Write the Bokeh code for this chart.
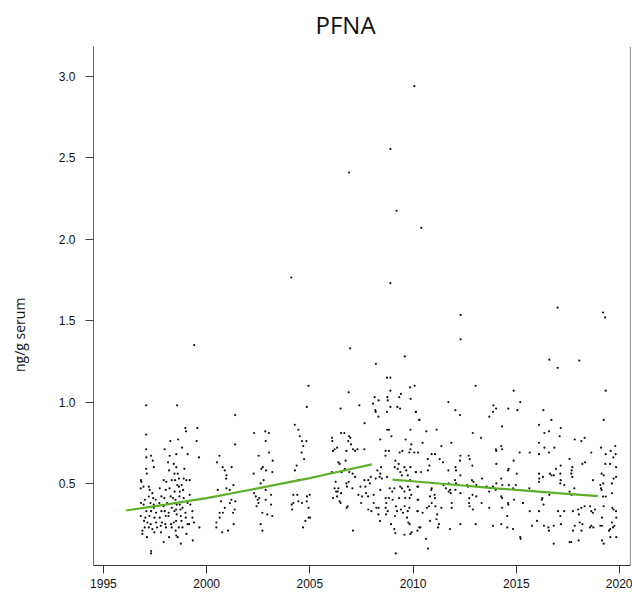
import math
from bokeh.plotting import figure
from bokeh.layouts import row
from bokeh.models import Range1d, FixedTicker, Span, NumeralTickFormatter
from bokeh.core.properties import value
from bokeh.embed import file_html
from bokeh.resources import INLINE

# ---- data (year, PFNA ng/g serum) ----
pts_1997_1999 = [
(1997.07,0.98),(1998.57,0.98),(1997.07,0.80),(1998.97,0.84),(1999.00,0.82),(1999.55,0.84),(1998.24,0.76),(1998.62,0.77),
(1999.52,0.76),(1997.07,0.71),(1997.97,0.71),(1998.81,0.72),(1997.08,0.66),(1997.31,0.67),(1997.39,0.64),(1997.44,0.60),
(1998.21,0.67),(1998.53,0.68),(1999.08,0.68),(1999.63,0.66),(1997.07,0.59),(1997.10,0.56),(1998.13,0.63),(1998.41,0.62),
(1998.53,0.60),(1998.92,0.59),(1998.18,0.58),(1998.44,0.56),(1998.60,0.56),(1998.66,0.53),(1996.82,0.52),(1996.84,0.51),
(1997.92,0.52),(1998.05,0.51),(1998.31,0.52),(1998.47,0.52),(1998.89,0.53),(1999.02,0.52),(1999.18,0.52),(1996.81,0.47),
(1996.94,0.48),(1997.20,0.48),(1997.24,0.46),(1997.37,0.44),(1997.73,0.47),(1998.02,0.46),(1998.20,0.47),(1998.58,0.49),
(1998.66,0.48),(1998.79,0.49),(1998.45,0.45),(1998.70,0.45),(1998.86,0.46),(1997.01,0.40),(1997.20,0.42),(1997.41,0.41),
(1997.53,0.40),(1997.81,0.42),(1997.95,0.41),(1998.26,0.42),(1998.37,0.41),(1998.49,0.40),(1998.68,0.42),(1998.89,0.41),
(1999.18,0.43),(1999.50,0.40),(1996.82,0.38),(1996.95,0.37),(1997.28,0.38),(1997.44,0.37),(1997.71,0.38),(1997.91,0.36),
(1998.08,0.38),(1998.31,0.35),(1998.55,0.37),(1998.70,0.37),(1998.83,0.35),(1999.08,0.38),(1999.21,0.37),(1997.08,0.33),
(1997.31,0.33),(1997.44,0.35),(1997.55,0.32),(1997.81,0.33),(1997.97,0.33),(1998.16,0.32),(1998.44,0.33),(1998.52,0.34),
(1998.73,0.34),(1998.97,0.32),(1999.31,0.33),(1996.81,0.30),(1997.03,0.29),(1997.23,0.30),(1997.47,0.29),(1997.73,0.29),
(1998.02,0.30),(1998.15,0.30),(1998.55,0.31),(1998.75,0.30),(1998.99,0.29),(1999.31,0.29),(1996.97,0.27),(1997.13,0.26),
(1997.29,0.25),(1997.55,0.26),(1997.84,0.26),(1998.00,0.25),(1998.28,0.25),(1998.41,0.26),(1998.52,0.27),(1998.78,0.27),
(1999.08,0.25),(1999.15,0.25),(1999.39,0.26),(1999.65,0.23),(1996.89,0.21),(1997.00,0.23),(1997.20,0.23),(1997.37,0.22),
(1997.60,0.23),(1997.78,0.24),(1998.03,0.23),(1998.31,0.23),(1998.50,0.21),(1998.65,0.23),(1998.83,0.23),(1996.89,0.19),
(1997.11,0.17),(1997.47,0.20),(1997.79,0.20),(1998.18,0.17),(1998.53,0.18),(1998.60,0.17),(1999.02,0.19),(1999.33,0.15),
(1997.92,0.14),(1998.75,0.13),(1997.31,0.085),(1997.31,0.07),
]

pts_2000_2005 = [
(2004.93,1.10),(2004.85,0.97),(2001.38,0.92),(2004.27,0.86),(2004.44,0.83),(2002.30,0.81),(2002.84,0.82),(2003.02,0.81),
(2004.51,0.79),(2004.83,0.76),(2004.62,0.76),(2001.38,0.74),(2002.86,0.76),(2004.68,0.73),(2003.02,0.69),(2000.62,0.67),
(2002.52,0.67),(2004.60,0.69),(2004.72,0.65),(2000.50,0.63),(2002.72,0.60),(2002.65,0.59),(2002.88,0.58),(2003.20,0.64),
(2004.36,0.61),(2004.28,0.58),(2000.78,0.60),(2000.88,0.58),(2001.21,0.60),(2000.96,0.55),(2000.94,0.53),(2002.28,0.56),
(2003.18,0.57),(2002.76,0.52),(2004.44,0.52),(2002.62,0.50),(2001.30,0.49),(2000.54,0.46),(2000.96,0.47),(2001.12,0.46),
(2002.30,0.44),(2002.38,0.42),(2002.55,0.41),(2002.47,0.40),(2003.12,0.43),(2002.86,0.46),(2004.20,0.43),(2004.39,0.43),
(2004.99,0.43),(2000.70,0.39),(2001.20,0.40),(2001.39,0.39),(2001.13,0.38),(2002.51,0.38),(2002.86,0.40),(2002.42,0.36),
(2003.12,0.37),(2004.12,0.37),(2004.20,0.38),(2004.44,0.39),(2004.62,0.38),(2004.86,0.42),(2004.85,0.39),(2000.88,0.35),
(2001.36,0.34),(2001.28,0.32),(2004.94,0.35),(2000.63,0.32),(2000.79,0.32),(2002.70,0.32),(2002.94,0.31),(2003.18,0.30),
(2004.14,0.34),(2000.63,0.29),(2004.78,0.27),(2004.94,0.29),(2005.01,0.29),(2000.47,0.26),(2001.31,0.25),(2002.62,0.25),
(2004.67,0.23),(2000.47,0.23),(2001.04,0.21),(2000.75,0.20),(2002.70,0.21),
]

pts_2005_2010 = [
(2008.74,1.15),(2008.90,1.15),(2010.08,1.10),(2009.85,1.09),(2006.88,1.06),(2008.90,1.07),(2008.75,1.03),(2009.41,1.05),
(2009.33,1.03),(2008.14,1.03),(2008.33,1.01),(2008.77,1.01),(2009.88,1.02),(2007.40,0.98),(2008.06,0.99),(2008.90,0.97),
(2009.24,0.97),(2009.37,0.96),(2006.49,0.96),(2008.17,0.95),(2008.19,0.94),(2008.74,0.94),(2008.32,0.91),(2010.14,0.94),
(2010.30,0.89),(2007.65,0.87),(2008.75,0.83),(2008.83,0.83),(2009.87,0.83),(2006.51,0.81),(2006.67,0.81),(2008.95,0.79),
(2006.90,0.79),(2006.96,0.78),(2006.86,0.76),(2006.07,0.78),(2008.41,0.77),(2009.64,0.77),(2006.09,0.76),(2006.99,0.74),
(2009.91,0.74),(2006.32,0.72),(2006.20,0.71),(2006.12,0.70),(2007.09,0.71),(2007.19,0.70),(2007.30,0.71),(2006.77,0.70),
(2007.64,0.71),(2008.67,0.70),(2008.83,0.70),(2009.35,0.69),(2009.48,0.70),(2009.87,0.71),(2009.82,0.69),(2010.06,0.69),
(2010.24,0.69),(2008.66,0.67),(2009.14,0.64),(2006.38,0.63),(2006.44,0.62),(2006.73,0.64),(2009.30,0.62),(2008.45,0.60),
(2009.11,0.60),(2009.25,0.59),(2009.58,0.60),(2009.67,0.58),(2009.87,0.60),(2006.69,0.59),(2006.91,0.57),(2006.54,0.57),
(2006.06,0.57),(2007.07,0.56),(2008.27,0.58),(2008.41,0.56),(2008.38,0.54),(2008.49,0.53),(2008.74,0.54),(2009.38,0.57),
(2009.46,0.55),(2009.74,0.55),(2010.14,0.57),(2009.85,0.52),(2006.25,0.51),(2006.88,0.51),(2006.77,0.50),(2007.19,0.54),
(2007.64,0.52),(2007.83,0.52),(2007.91,0.50),(2008.19,0.53),(2007.95,0.54),(2006.38,0.47),(2006.20,0.47),(2006.27,0.45),
(2006.80,0.48),(2007.06,0.47),(2007.45,0.48),(2007.69,0.48),(2008.87,0.47),(2009.09,0.47),(2009.38,0.48),(2009.46,0.47),
(2009.75,0.48),(2010.24,0.48),(2006.35,0.45),(2006.51,0.44),(2007.35,0.43),(2007.53,0.42),(2007.72,0.44),(2007.82,0.42),
(2008.09,0.43),(2008.41,0.46),(2008.99,0.45),(2009.58,0.45),(2009.83,0.46),(2009.91,0.43),(2006.12,0.41),(2006.32,0.42),
(2006.44,0.39),(2006.49,0.38),(2008.67,0.41),(2008.83,0.41),(2009.01,0.40),(2009.32,0.41),(2009.62,0.41),(2009.83,0.41),
(2010.22,0.40),(2006.83,0.36),(2006.78,0.35),(2007.48,0.38),(2008.09,0.38),(2008.70,0.38),(2008.67,0.35),(2009.17,0.36),
(2009.59,0.36),(2009.82,0.35),(2007.83,0.34),(2007.98,0.33),(2008.22,0.35),(2008.33,0.35),(2008.77,0.33),(2009.22,0.33),
(2009.41,0.34),(2009.51,0.32),(2009.74,0.33),(2010.22,0.33),(2008.69,0.31),(2009.12,0.30),(2009.70,0.29),(2008.32,0.31),
(2008.40,0.27),(2008.93,0.25),(2009.77,0.26),(2009.83,0.25),(2009.09,0.22),(2007.09,0.21),(2009.14,0.195),(2009.58,0.185),
(2009.87,0.19),(2009.93,0.20),(2010.35,0.23),(2009.16,0.07),
]

pts_2010_2015 = [
(2013.03,1.10),(2014.87,1.07),(2011.71,1.00),(2015.19,1.00),(2013.89,0.98),(2014.02,0.96),(2013.87,0.94),(2014.61,0.96),
(2015.05,0.95),(2012.05,0.95),(2012.27,0.92),(2013.69,0.91),(2010.13,0.94),(2010.30,0.89),(2014.31,0.85),(2010.64,0.82),
(2011.14,0.83),(2012.89,0.81),(2013.29,0.78),(2010.46,0.75),(2011.37,0.73),(2011.85,0.75),(2014.01,0.71),(2014.03,0.70),
(2014.27,0.73),(2014.31,0.71),(2015.16,0.69),(2010.90,0.68),(2011.06,0.68),(2012.29,0.67),(2012.69,0.67),(2012.74,0.65),
(2010.71,0.65),(2011.29,0.65),(2012.27,0.64),(2014.87,0.64),(2014.03,0.62),(2011.45,0.63),(2010.79,0.61),(2012.87,0.61),
(2014.63,0.59),(2014.60,0.58),(2012.05,0.60),(2012.08,0.58),(2010.72,0.58),(2010.13,0.57),(2010.38,0.57),(2011.71,0.58),
(2015.02,0.56),(2012.29,0.55),(2014.27,0.53),(2013.34,0.53),(2012.85,0.52),(2012.03,0.52),(2012.92,0.51),(2012.61,0.49),
(2011.72,0.50),(2012.08,0.50),(2011.47,0.49),(2014.03,0.50),(2014.32,0.49),(2014.64,0.49),(2014.98,0.49),(2010.21,0.48),
(2010.90,0.47),(2010.88,0.46),(2011.59,0.47),(2011.79,0.46),(2012.05,0.46),(2012.66,0.48),(2013.06,0.49),(2013.56,0.48),
(2013.87,0.48),(2014.85,0.47),(2011.72,0.45),(2011.82,0.44),(2012.29,0.44),(2013.68,0.45),(2014.00,0.46),(2012.88,0.43),
(2013.06,0.42),(2011.04,0.43),(2011.06,0.41),(2010.82,0.42),(2010.25,0.40),(2012.72,0.41),(2014.27,0.42),(2014.31,0.41),
(2014.89,0.40),(2015.32,0.38),(2011.87,0.38),(2010.90,0.38),(2010.77,0.36),(2010.67,0.35),(2011.08,0.36),(2011.37,0.35),
(2011.87,0.35),(2012.71,0.38),(2012.74,0.36),(2013.32,0.38),(2013.69,0.35),(2014.60,0.38),(2014.61,0.37),(2012.90,0.34),
(2014.31,0.35),(2010.21,0.33),(2010.46,0.32),(2011.17,0.31),(2010.82,0.27),(2011.13,0.28),(2014.56,0.30),(2011.25,0.25),
(2011.21,0.23),(2011.79,0.22),(2012.29,0.25),(2013.03,0.25),(2013.87,0.24),(2014.27,0.25),(2014.56,0.23),(2014.84,0.22),
(2010.30,0.23),(2010.21,0.21),(2015.21,0.16),(2010.63,0.16),(2010.72,0.10),
]

pts_2015_2020 = [
(2019.33,1.07),(2016.31,0.95),(2019.23,0.89),(2016.70,0.89),(2016.10,0.86),(2016.36,0.81),(2016.58,0.82),(2017.15,0.84),
(2017.10,0.79),(2017.83,0.77),(2018.15,0.76),(2018.31,0.78),(2016.10,0.75),(2016.36,0.72),(2016.84,0.72),(2019.79,0.73),
(2019.10,0.72),(2019.57,0.70),(2019.81,0.68),(2015.65,0.69),(2016.58,0.69),(2016.10,0.68),(2018.63,0.69),(2019.33,0.68),
(2019.70,0.66),(2017.58,0.65),(2019.54,0.62),(2019.31,0.62),(2019.83,0.60),(2018.20,0.62),(2018.33,0.63),(2017.71,0.60),
(2017.15,0.61),(2016.92,0.59),(2017.68,0.58),(2016.63,0.56),(2016.71,0.55),(2016.82,0.55),(2016.10,0.56),(2016.11,0.53),
(2016.29,0.54),(2017.13,0.56),(2017.66,0.56),(2017.71,0.54),(2019.13,0.56),(2019.23,0.55),(2019.83,0.54),(2019.71,0.53),
(2018.71,0.52),(2017.15,0.52),(2017.13,0.50),(2017.32,0.49),(2019.07,0.49),(2019.21,0.50),(2019.63,0.50),(2016.10,0.51),
(2019.10,0.47),(2019.13,0.46),(2017.81,0.47),(2017.58,0.45),(2015.63,0.47),(2019.20,0.42),(2019.33,0.42),(2019.63,0.44),
(2016.60,0.43),(2017.68,0.43),(2016.26,0.41),(2016.23,0.40),(2015.32,0.38),(2016.32,0.37),(2018.57,0.36),(2018.31,0.36),
(2018.15,0.35),(2017.99,0.34),(2018.81,0.34),(2018.63,0.33),(2018.71,0.32),(2019.23,0.36),(2019.65,0.35),(2019.71,0.34),
(2019.83,0.33),(2019.84,0.29),(2015.65,0.33),(2016.10,0.33),(2017.02,0.33),(2017.32,0.33),(2017.74,0.33),(2018.03,0.31),
(2017.13,0.30),(2019.15,0.29),(2016.00,0.27),(2015.76,0.24),(2016.34,0.24),(2016.55,0.23),(2016.58,0.21),(2016.81,0.24),
(2017.16,0.25),(2017.83,0.24),(2018.07,0.26),(2018.20,0.25),(2018.16,0.21),(2017.74,0.21),(2018.57,0.23),(2018.63,0.24),
(2018.73,0.23),(2019.07,0.24),(2019.15,0.24),(2019.63,0.26),(2019.75,0.24),(2019.68,0.23),(2019.55,0.22),(2019.49,0.21),
(2019.84,0.17),(2019.55,0.17),(2016.81,0.13),(2017.58,0.14),(2017.66,0.14),(2018.02,0.15),(2019.15,0.15),(2019.23,0.13),
(2015.19,0.17),
]

pts_high = [
(2010.06,2.94),(2008.90,2.555),(2006.90,2.41),(2009.20,2.175),(2010.40,2.07),(2004.10,1.765),(2008.90,1.73),
(2017.00,1.58),(2012.30,1.535),(2019.20,1.55),(2019.30,1.52),(2012.30,1.385),(1999.40,1.35),(2006.95,1.33),
(2009.60,1.28),(2008.20,1.235),(2016.60,1.26),(2018.05,1.255),(2017.00,1.21),
]

trend1_years = [1996.1, 1998, 2000, 2002, 2004, 2005, 2006, 2008]
trend1_vals = [0.334, 0.37, 0.41, 0.458, 0.508, 0.533, 0.561, 0.617]
trend2_years = [2009.0, 2010.1, 2012, 2014, 2015.3, 2017, 2018.95]
trend2_vals = [0.523, 0.512, 0.492, 0.470, 0.458, 0.440, 0.422]

x_ticks = [1995, 2000, 2005, 2010, 2015, 2020]
y_ticks = [0.5, 1.0, 1.5, 2.0, 2.5, 3.0]
title_text = "PFNA"
y_label_text = "ng/g serum"

all_pts = pts_1997_1999 + pts_2000_2005 + pts_2005_2010 + pts_2010_2015 + pts_2015_2020 + pts_high
xs = [a for a, b in all_pts]
ys = [b for a, b in all_pts]

W, H = 632, 594
LAB_W = 40     # strip with the y label

lab = figure(width=LAB_W, height=H, output_backend="svg", toolbar_location=None,
             x_axis_location=None, y_axis_location=None, title=None,
             x_range=Range1d(0, LAB_W), y_range=Range1d(0, H), min_border=0,
             background_fill_color="white", border_fill_color="white")
lab.grid.visible = False
lab.outline_line_color = None
lab.text(x=[19], y=[H - 330], text=[y_label_text], angle=math.pi / 2,
         text_font=value("Open Sans"), text_font_size="14px", text_color="#111111",
         text_align="center", text_baseline="middle")

# ---- main plot ----
X_END = 2020.53
p = figure(width=W - LAB_W, height=H, output_backend="svg", toolbar_location=None,
           x_range=Range1d(1994.52, X_END), y_range=Range1d(-0.004, 3.184),
           min_border_left=93 - LAB_W, min_border_right=2, min_border_top=46, min_border_bottom=29,
           background_fill_color="white", border_fill_color="white")
p.outline_line_color = None
p.grid.visible = False

p.title.text = title_text
p.title.text_font = "Open Sans"
p.title.text_font_size = "24px"
p.title.text_font_style = "normal"
p.title.text_color = "#111111"
p.title.align = "left"
p.title.offset = 222
p.title.standoff = 11

ax = p.xaxis[0]
ax.ticker = FixedTicker(ticks=x_ticks)
ax.major_tick_out = 8
ax.major_tick_in = 0
ax.minor_tick_line_color = None
ax.axis_line_color = "#333333"
ax.major_tick_line_color = "#333333"
ax.major_label_text_font = "Liberation Sans"
ax.major_label_text_font_size = "12px"
ax.major_label_text_color = "#111111"
ax.major_label_standoff = 5

ay = p.yaxis[0]
ay.ticker = FixedTicker(ticks=y_ticks)
ay.formatter = NumeralTickFormatter(format="0.0")
ay.major_tick_out = 8
ay.major_tick_in = 0
ay.minor_tick_line_color = None
ay.axis_line_color = "#666666"
ay.major_tick_line_color = "#444444"
ay.major_label_text_font = "Liberation Sans"
ay.major_label_text_font_size = "12px"
ay.major_label_text_color = "#111111"
ay.major_label_standoff = 10

# right frame line
p.add_layout(Span(location=X_END, dimension="height", line_color="#444444", line_width=1.2))

p.scatter(xs, ys, marker="circle", size=2.2, fill_color="#111111", line_color=None)
p.line(trend1_years, trend1_vals, line_color="#5DAF27", line_width=2.2)
p.line(trend2_years, trend2_vals, line_color="#5DAF27", line_width=2.2)

layout = row(lab, p, spacing=0)
open("out.html", "w").write(file_html(layout, INLINE))
